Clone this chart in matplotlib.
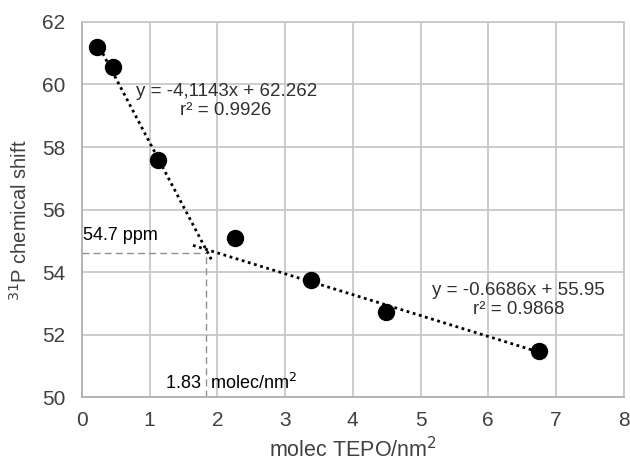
import numpy as np
import matplotlib.pyplot as plt

plt.rcParams['font.family'] = ['Liberation Sans', 'DejaVu Sans']

# measured points
x_pts = [0.22, 0.46, 1.12, 2.26, 3.38, 4.49, 6.75]
y_pts = [61.2, 60.56, 57.58, 55.09, 53.75, 52.72, 51.48]

# trendlines (slope, intercept, x range)
fit1 = (-4.1143, 62.262)
fit1_x = [0.22, 1.92]
fit2 = (-0.6686, 55.95)
fit2_x = [1.64, 6.75]

# intersection marks
x_cross = 1.83
y_cross = 54.6

fig = plt.figure(figsize=(6.3, 4.63), dpi=100)
ax = fig.add_axes([0.130, 0.1425, 0.860, 0.81])

grid_c = '#c8c8c8'
ax.set_xlim(0, 8)
ax.set_ylim(50, 62)
ax.set_xticks(range(0, 9))
ax.set_yticks(range(50, 63, 2))
ax.grid(True, color=grid_c, linewidth=1.3)
ax.set_axisbelow(True)
for s in ax.spines.values():
    s.set_color(grid_c)
    s.set_linewidth(1.3)
ax.spines['left'].set_color('#b0b0b0')
ax.spines['bottom'].set_color('#b0b0b0')
ax.tick_params(length=0, labelsize=15, labelcolor='#404040')
ax.tick_params(axis='x', pad=10)
ax.tick_params(axis='y', pad=12)

for (m, b), xr in [(fit1, fit1_x), (fit2, fit2_x)]:
    xx = np.array(xr)
    ax.plot(xx, m * xx + b, color='black', linestyle=(0, (1, 1.3)), linewidth=2, zorder=2)

ax.plot([0, x_cross], [y_cross, y_cross], color='#909090', linestyle=(0, (5, 3)), linewidth=1, zorder=2)
ax.plot([x_cross, x_cross], [50, y_cross], color='#909090', linestyle=(0, (5, 3)), linewidth=1, zorder=2)

ax.plot(x_pts, y_pts, 'o', color='black', markersize=11.5, zorder=3)

ax.text(2.13, 59.47, 'y = -4,1143x + 62.262\nr² = 0.9926', ha='center', va='center',
        fontsize=13.5, color='#303030', linespacing=1.2)
ax.text(6.45, 53.1, 'y = -0.6686x + 55.95\nr² = 0.9868', ha='center', va='center',
        fontsize=13.5, color='#303030', linespacing=1.2)
ax.text(0.02, 55.18, '54.7 ppm', ha='left', va='center', fontsize=13, color='black')
ax.text(1.22, 50.45, '1.83  molec/nm$^2$', ha='left', va='center', fontsize=13, color='black')

ax.set_xlabel('molec TEPO/nm$^2$', fontsize=15.5, color='#404040', labelpad=5)
ax.set_ylabel('$^{31}$P chemical shift', fontsize=14.5, color='#404040')
ax.yaxis.set_label_coords(-0.094, 0.47)

fig.savefig('out.png', dpi=100)
